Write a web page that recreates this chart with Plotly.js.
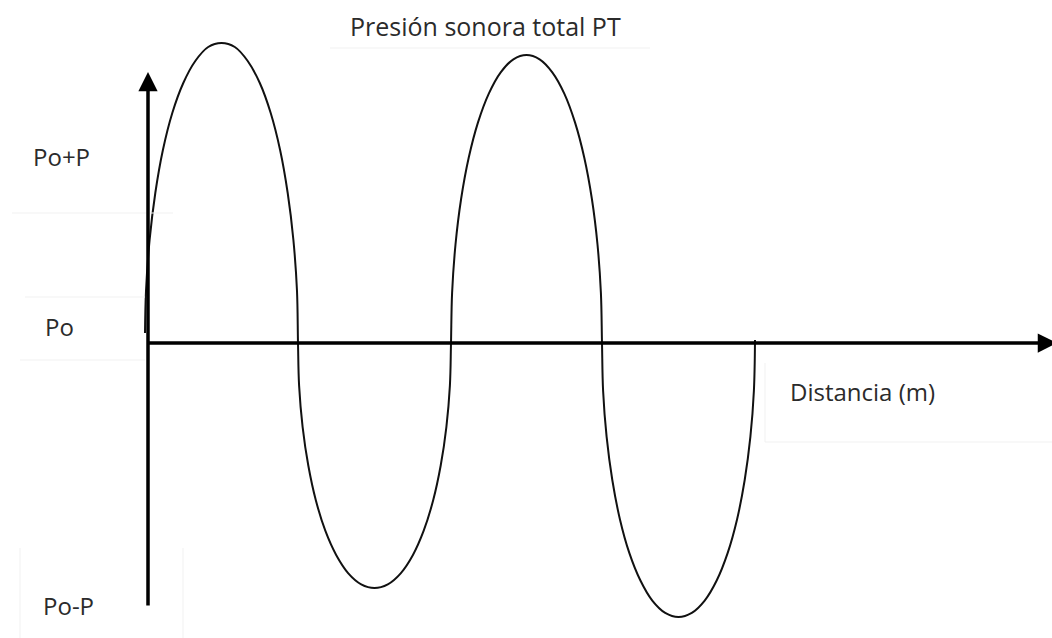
<!DOCTYPE html>
<html>
<head>
<meta charset="utf-8">
<script src="https://cdn.plot.ly/plotly-3.0.1.min.js"></script>
<style>html,body{margin:0;padding:0;background:#fff;}#chart{width:1052px;height:638px;}</style>
</head>
<body>
<div id="chart"></div>
<script>
// Distance along the axis and total pressure (relative to Po)
const distancia = [
  -3, -2, 1.6, 7.3, 14.9, 24.3, 35.3, 47.3, 60.2, 73.5, 86.8, 99.7, 111.8, 122.7, 132.1, 139.7, 145.4, 149, 150,
  151.1, 154.6, 160.3, 167.9, 177.3, 188.3, 200.3, 213.2, 226.5, 239.8, 252.7, 264.8, 275.7, 285.1, 292.7, 298.4, 301.9, 303,
  304.1, 307.5, 313.1, 320.7, 330, 340.8, 352.7, 365.4, 378.5, 391.6, 404.3, 416.3, 427, 436.3, 443.9, 449.5, 452.9, 454,
  455.1, 458.6, 464.3, 471.9, 481.3, 492.3, 504.3, 517.2, 530.5, 543.8, 556.7, 568.8, 579.7, 589.1, 596.7, 602.4, 605.9, 607
];
const presion = [
  10, 52, 103, 150, 193, 230, 260, 282, 296, 300, 296, 282, 260, 230, 193, 150, 103, 52, 0,
  -42.6, -83.8, -122.5, -157.5, -187.7, -212.2, -230.3, -241.3, -245, -241.3, -230.3, -212.2, -187.7, -157.5, -122.5, -83.8, -42.6, 0,
  50.1, 98.5, 144, 185.2, 220.6, 249.4, 270.7, 283.7, 288, 283.7, 270.7, 249.4, 220.6, 185.2, 144, 98.5, 50.1, 0,
  -47.7, -93.7, -137, -176.2, -209.9, -237.3, -257.6, -269.9, -274, -269.9, -257.6, -237.3, -209.9, -176.2, -137, -93.7, -47.7, 3
];

const tituloTexto = "Presión sonora total PT";
const etiquetasY = ["Po+P", "Po", "Po-P"];
const etiquetaX = "Distancia (m)";

const textFont = {family: "'Open Sans', sans-serif", size: 24, color: "#2b2b2b"};
const titleFont = {family: "'Open Sans', sans-serif", size: 25, color: "#2b2b2b"};

const trace = {
  x: distancia, y: presion, mode: "lines", type: "scatter",
  line: {color: "#111", width: 2, shape: "spline", smoothing: 1},
  hoverinfo: "skip"
};

const faint = "#f1f1f1";
const layout = {
  width: 1052, height: 638,
  margin: {l: 0, r: 0, t: 0, b: 0, pad: 0},
  paper_bgcolor: "#fff", plot_bgcolor: "#fff",
  showlegend: false,
  xaxis: {range: [-148, 904], visible: false, fixedrange: true},
  yaxis: {range: [-295, 343], visible: false, fixedrange: true},
  shapes: [
    {type: "line", x0: 182, x1: 502, y0: 295, y1: 295, line: {color: faint, width: 1}},
    {type: "line", x0: -136, x1: 25, y0: 130, y1: 130, line: {color: faint, width: 1}},
    {type: "line", x0: -123, x1: -3, y0: 46, y1: 46, line: {color: faint, width: 1}},
    {type: "line", x0: -128, x1: -3, y0: -17, y1: -17, line: {color: faint, width: 1}},
    {type: "line", x0: -128, x1: -128, y0: -205, y1: -295, line: {color: faint, width: 1}},
    {type: "line", x0: 35, x1: 35, y0: -205, y1: -295, line: {color: faint, width: 1}},
    {type: "line", x0: 617, x1: 617, y0: -20, y1: -99, line: {color: faint, width: 1}},
    {type: "line", x0: 617, x1: 904, y0: -99, y1: -99, line: {color: faint, width: 1}}
  ],
  annotations: [
    // vertical axis arrow
    {x: 0, y: 271, ax: 0, ay: -264, xref: "x", yref: "y", axref: "x", ayref: "y",
     text: "", showarrow: true, arrowhead: 2, arrowsize: 1.1, arrowwidth: 3.5, arrowcolor: "#000"},
    // horizontal axis arrow
    {x: 909, y: 0, ax: -2, ay: 0, xref: "x", yref: "y", axref: "x", ayref: "y",
     text: "", showarrow: true, arrowhead: 2, arrowsize: 1.1, arrowwidth: 3.5, arrowcolor: "#000"},
    {x: 337, y: 317, xref: "x", yref: "y", text: tituloTexto, showarrow: false, font: titleFont},
    {x: -87, y: 187, xref: "x", yref: "y", text: etiquetasY[0], showarrow: false, font: textFont},
    {x: -89, y: 17, xref: "x", yref: "y", text: etiquetasY[1], showarrow: false, font: textFont},
    {x: -80, y: -262, xref: "x", yref: "y", text: etiquetasY[2], showarrow: false, font: textFont},
    {x: 714, y: -48, xref: "x", yref: "y", text: etiquetaX, showarrow: false, font: textFont}
  ]
};

Plotly.newPlot("chart", [trace], layout, {displayModeBar: false, staticPlot: true});
</script>
</body>
</html>
